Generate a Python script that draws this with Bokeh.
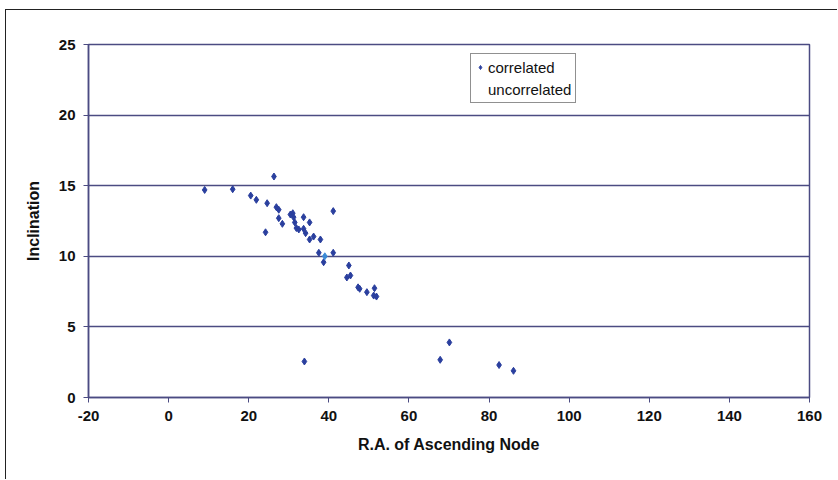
from bokeh.plotting import figure
from bokeh.models import Range1d, FixedTicker, Legend, LegendItem
from bokeh.embed import file_html
from bokeh.resources import INLINE

# Data
correlated_x = [9.0, 16.0, 26.3, 20.5, 21.9, 24.6, 26.9, 27.5, 27.5, 28.4, 24.2,
                30.4, 31.0, 31.2, 31.5, 31.9, 32.5, 33.7, 35.2, 33.7, 34.2, 35.2,
                36.2, 37.9, 41.1, 37.5, 38.7, 41.1, 45.0, 44.5, 45.4, 47.3, 47.7,
                49.5, 51.4, 51.2, 51.9, 70.1, 67.8, 82.5, 86.1, 33.9]
correlated_y = [14.7, 14.75, 15.65, 14.3, 14.0, 13.76, 13.48, 13.3, 12.7, 12.3, 11.7,
                12.96, 13.05, 12.77, 12.4, 12.0, 11.9, 12.77, 12.4, 11.95, 11.64, 11.19,
                11.4, 11.19, 13.2, 10.25, 9.58, 10.25, 9.35, 8.5, 8.64, 7.8, 7.7,
                7.46, 7.74, 7.22, 7.15, 3.9, 2.67, 2.3, 1.89, 2.55]
uncorrelated_x = [39.0]
uncorrelated_y = [10.0]

x_ticks = [-20, 0, 20, 40, 60, 80, 100, 120, 140, 160]
x_tick_labels = ["-20", "0", "20", "40", "60", "80", "100", "120", "140", "160"]
y_ticks = [0, 5, 10, 15, 20, 25]

NAVY = "#4b4b82"
MARK = "#2a3f9e"
FONT = "Liberation Sans"

p = figure(width=832, height=470, output_backend="svg", toolbar_location=None,
           x_range=Range1d(-20, 160), y_range=Range1d(0, 25),
           min_border_left=82, min_border_right=29, min_border_top=34,
           min_border_bottom=83)
p.styles = {"margin-left": "5px", "margin-top": "9px",
            "border-left": "1px solid #222222", "border-top": "1px solid #222222"}

p.outline_line_color = NAVY
p.outline_line_width = 1.5
p.xgrid.visible = False
p.ygrid.grid_line_color = NAVY
p.ygrid.grid_line_width = 1.5
p.ygrid.ticker = FixedTicker(ticks=y_ticks)

for ax in (p.xaxis, p.yaxis):
    ax.axis_line_color = NAVY
    ax.axis_line_width = 1.5
    ax.major_tick_line_color = NAVY
    ax.major_tick_out = 5
    ax.major_tick_in = 0
    ax.minor_tick_line_color = None
    ax.major_label_text_font = FONT
    ax.major_label_text_font_style = "bold"
    ax.major_label_text_font_size = "15px"
    ax.major_label_text_color = "#111111"
    ax.axis_label_text_font = FONT
    ax.axis_label_text_font_style = "bold"
    ax.axis_label_text_font_size = "16px"
    ax.axis_label_text_color = "#111111"
    ax.major_label_standoff = 8

p.xaxis.ticker = FixedTicker(ticks=x_ticks)
p.xaxis.major_label_overrides = {t: s for t, s in zip(x_ticks, x_tick_labels)}
p.yaxis.ticker = FixedTicker(ticks=y_ticks)
p.xaxis.axis_label = "R.A. of Ascending Node"
p.yaxis.axis_label = "Inclination"
p.xaxis.axis_label_standoff = 12
p.yaxis.axis_label_standoff = 14

r1 = p.scatter(correlated_x, correlated_y, marker="diamond", size=7,
               fill_color=MARK, line_color=MARK)
p.scatter(uncorrelated_x, uncorrelated_y, marker="diamond", size=7,
          fill_color="#3b8ad6", line_color="#3b8ad6")
r_dummy = p.scatter([], [], marker="diamond", size=7, fill_alpha=0, line_alpha=0)

legend = Legend(items=[LegendItem(label="correlated", renderers=[r1]),
                       LegendItem(label="uncorrelated", renderers=[r_dummy])],
                location=(382, 294))
legend.border_line_color = "#222222"
legend.border_line_width = 1
legend.background_fill_color = "white"
legend.label_text_font = FONT
legend.label_text_font_size = "15px"
legend.label_text_color = "#111111"
legend.glyph_width = 10
legend.glyph_height = 18
legend.label_height = 18
legend.spacing = 4
legend.padding = 4
legend.margin = 0
legend.label_standoff = 3
p.add_layout(legend, "center")

open("out.html", "w").write(file_html(p, INLINE))
